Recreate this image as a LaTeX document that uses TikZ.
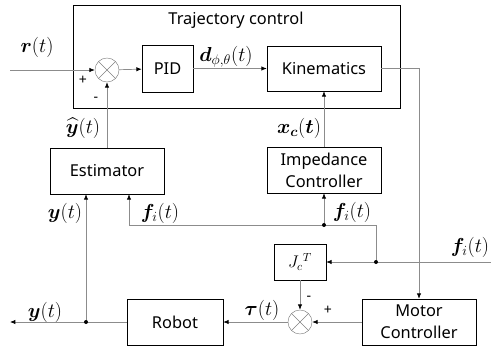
\documentclass[tikz,border=0pt]{standalone}
\usepackage{fontspec}
\setmainfont{Noto Sans}
\usepackage{amsmath,bm}
\usetikzlibrary{positioning,arrows.meta,calc}

\begin{document}
\begin{tikzpicture}[
  x=0.03cm, y=-0.03cm,
  font=\fontsize{14}{19}\selectfont,
  blk/.style={draw, minimum height=1.38cm, align=center, inner sep=1pt},
  sumj/.style={draw=black!50, circle, minimum size=0.72cm, inner sep=0pt,
    path picture={\draw[black!50]
      (path picture bounding box.south west) -- (path picture bounding box.north east)
      (path picture bounding box.north west) -- (path picture bounding box.south east);}},
  ln/.style={draw=black!45, line width=0.6pt},
  fl/.style={ln, -{Latex[length=1.6mm, width=1.3mm, color=black]}},
  lbl/.style={font=\fontsize{16.5}{18}\selectfont, inner sep=1pt},
  sgn/.style={font=\fontsize{12}{14}\selectfont, inner sep=0pt}
]
\useasboundingbox (0,0) rectangle (491,350);

\node[draw, minimum width=9.81cm, minimum height=3.09cm] (traj) at (236.5,56.5) {};
\node (trajlbl) at (236,20) {Trajectory control};
\node[sumj] (s1) at (107,70) {};
\node[blk, minimum width=1.53cm, minimum height=1.41cm] (pid) at (167.5,68.5) {PID};
\node[blk, minimum width=3.42cm, minimum height=1.35cm] (kin) at (324,68.5) {Kinematics};
\node[blk, minimum width=3.42cm] (est) at (107,171) {Estimator};
\node[blk, minimum width=3.42cm] (imp) at (324,170) {Impedance\\Controller};
\node[blk, minimum width=1.56cm, minimum height=1.08cm] (jct) at (300,262) {$J_c{}^T$};
\node[sumj] (s2) at (300,322) {};
\node[blk, minimum width=2.88cm] (rob) at (175,322) {Robot};
\node[blk, minimum width=3.42cm] (mot) at (419,322) {Motor\\Controller};

\coordinate (rin) at (10,70);
\coordinate (yout) at (10,322);
\coordinate (fin) at (491,262);
\coordinate (ydot) at (86,322);
\coordinate (fdot1) at (324,225);
\coordinate (fdot2) at (376,262);
\coordinate (fest) at (129,225);

\foreach \a/\b in {rin/s1, s1/pid, pid/kin, est/s1, imp/kin, fdot1/imp, fin/jct, jct/s2, mot/s2, s2/rob}
  \draw[fl] (\a) -- (\b);
\draw[fl] (kin.east) -| (mot.north);
\draw[fl] (rob.west) -- (yout);
\draw[fl] (ydot) -- (ydot |- est.south);
\draw[fl] (fdot2) |- (fest) -- (fest |- est.south);
\foreach \p in {ydot, fdot1, fdot2} \fill (\p) circle (0.06cm);

\node[lbl] (rlbl) at (37,47) {$\bm{r}(t)$};
\node[sgn] (p1) at (83,80) {+};
\node[sgn] (m1) at (96,99) {-};
\node[lbl] (dlbl) at (226,57) {$\bm{d}_{\phi,\theta}(t)$};
\node[lbl] (yhlbl) at (83,128) {$\widehat{\bm{y}}(t)$};
\node[lbl] (xclbl) at (299,128) {$\bm{x}_{\bm{c}}(\bm{t})$};
\node[lbl] (ylbl1) at (65,213) {$\bm{y}(t)$};
\node[lbl] (filbl1) at (160,213) {$\bm{f}_i(t)$};
\node[lbl] (filbl2) at (352,212) {$\bm{f}_i(t)$};
\node[lbl] (filbl3) at (470,247) {$\bm{f}_i(t)$};
\node[lbl] (taulbl) at (262,310) {$\bm{\tau}(t)$};
\node[lbl] (ylbl2) at (45,312) {$\bm{y}(t)$};
\node[sgn] (m2) at (309,298) {-};
\node[sgn] (p2) at (328,310) {+};
\end{tikzpicture}
\end{document}
